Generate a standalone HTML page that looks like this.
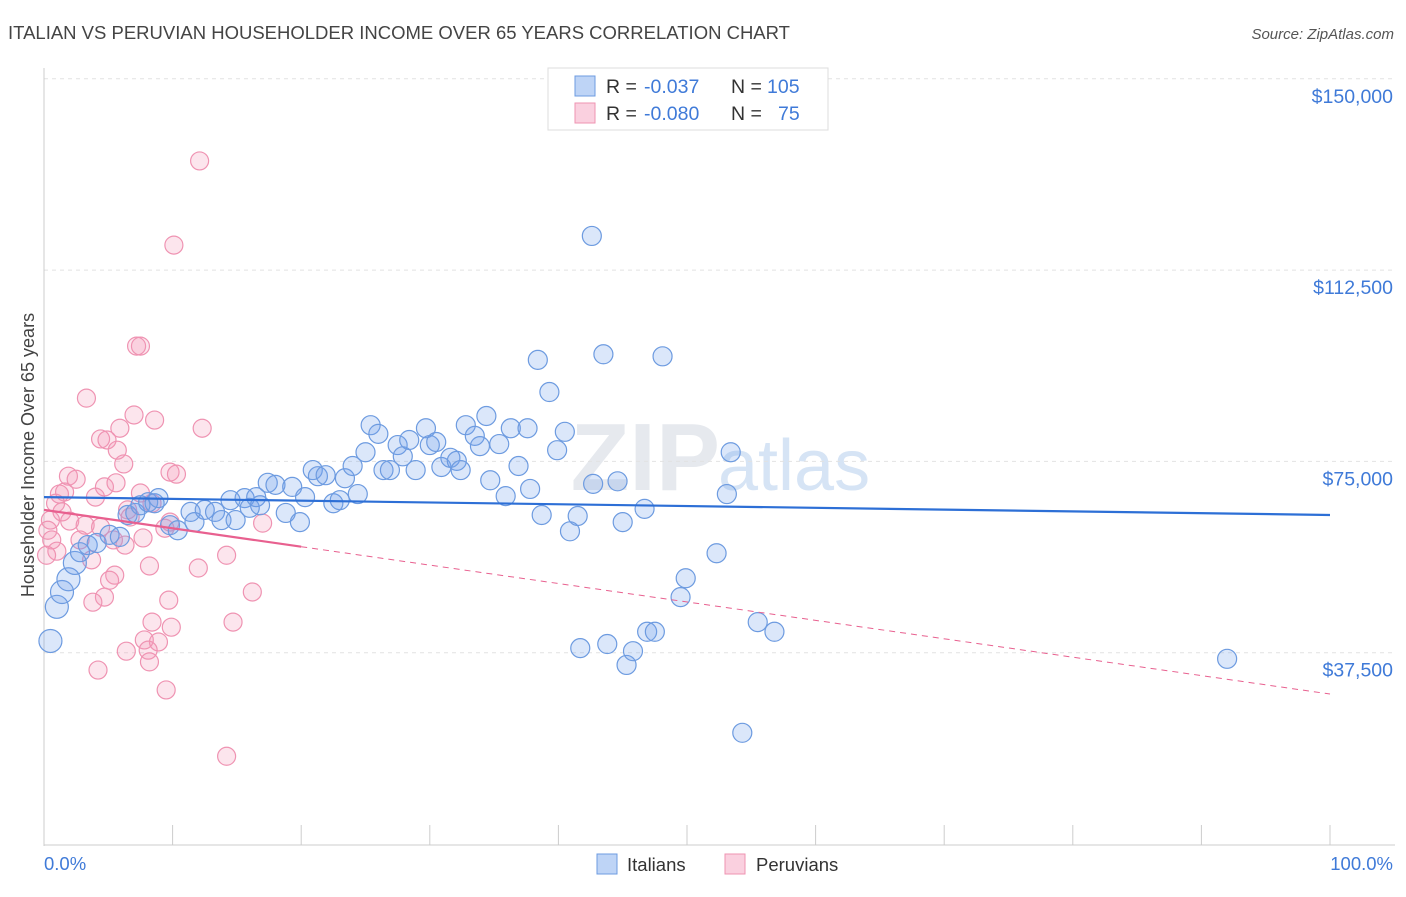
<!DOCTYPE html>
<html><head><meta charset="utf-8">
<style>
body{margin:0;background:#fff;font-family:"Liberation Sans",sans-serif;}
svg text{font-family:"Liberation Sans",sans-serif;}
</style></head>
<body>
<svg id="chart" width="1406" height="892" viewBox="0 0 1406 892">
<text x="8" y="39" font-size="18.5" fill="#444">ITALIAN VS PERUVIAN HOUSEHOLDER INCOME OVER 65 YEARS CORRELATION CHART</text>
<text x="1394" y="39" font-size="15" fill="#555" font-style="italic" text-anchor="end">Source: ZipAtlas.com</text>
<text x="720" y="490" font-size="96" fill="#e6e9ee" text-anchor="end" font-family="Liberation Serif" font-weight="bold">ZIP</text>
<text x="718" y="490" font-size="72" fill="#d6e4f5">atlas</text>
<g id="grid"></g>
<g id="axes"></g>
<g id="pts"></g>
<g id="trend"></g>
<text transform="translate(34,455) rotate(-90)" font-size="18" fill="#444" text-anchor="middle">Householder Income Over 65 years</text>
<g>
<rect x="548" y="68" width="280" height="62" fill="#fff" stroke="#ddd"/>
<rect x="575" y="76" width="20" height="20" fill="rgba(110,160,235,0.45)" stroke="#6d9be0"/>
<text x="606" y="93" font-size="19.5" fill="#333">R =</text>
<text x="644" y="93" font-size="19.5" fill="#3f7ad8">-0.037</text>
<text x="731" y="93" font-size="19.5" fill="#333">N =</text>
<text x="767" y="93" font-size="19.5" fill="#3f7ad8">105</text>
<rect x="575" y="103" width="20" height="20" fill="rgba(245,150,185,0.45)" stroke="#ef93b2"/>
<text x="606" y="120" font-size="19.5" fill="#333">R =</text>
<text x="644" y="120" font-size="19.5" fill="#3f7ad8">-0.080</text>
<text x="731" y="120" font-size="19.5" fill="#333">N =</text>
<text x="778" y="120" font-size="19.5" fill="#3f7ad8">75</text>
</g>
<g>
<rect x="597" y="854" width="20" height="20" fill="rgba(110,160,235,0.45)" stroke="#6d9be0"/>
<text x="627" y="871" font-size="18.5" fill="#333">Italians</text></g>
<g>
<rect x="725" y="854" width="20" height="20" fill="rgba(245,150,185,0.45)" stroke="#ef93b2"/>
<text x="756" y="871" font-size="18.5" fill="#333">Peruvians</text></g>
</svg>
<script>
const yTicks=[37500,75000,112500,150000];
const yTickLabels=["$37,500","$75,000","$112,500","$150,000"];
const xTickLabels=["0.0%","100.0%"];
const itX=[0.5,1.0,1.4,1.9,2.4,2.8,3.4,4.1,5.1,5.9,6.5,7.1,7.5,8.1,8.6,8.9,9.8,10.4,11.4,11.7,12.5,13.3,13.8,14.5,14.9,15.6,16.0,16.5,16.8,17.4,18.0,18.8,19.3,19.9,20.3,20.9,21.3,21.9,22.5,23.0,23.4,24.0,24.4,25.0,25.4,26.0,26.4,26.9,27.5,27.9,28.4,28.9,29.7,30.0,30.5,30.9,31.6,32.1,32.4,32.8,33.5,33.9,34.4,34.7,35.4,35.9,36.3,36.9,37.6,37.8,38.4,38.7,39.3,39.9,40.5,40.9,41.5,41.7,42.6,42.7,43.5,43.8,44.6,45.0,45.3,45.8,46.7,46.9,47.5,48.1,49.5,49.9,52.3,53.1,53.4,54.3,55.5,56.8,92.0];
const itY=[39.8,46.5,49.4,51.9,55.1,57.2,58.6,59.0,60.6,60.2,64.5,64.9,66.4,67.0,66.8,67.8,62.5,61.5,65.1,63.1,65.5,65.1,63.5,67.4,63.5,67.8,65.9,68.0,66.4,70.8,70.4,64.9,70.0,63.1,68.0,73.3,72.1,72.3,66.8,67.4,71.7,74.1,68.6,76.8,82.1,80.4,73.3,73.3,78.2,76.0,79.2,73.3,81.5,78.2,78.8,73.9,75.7,75.1,73.3,82.1,80.0,78.0,83.9,71.3,78.4,68.2,81.5,74.1,81.5,69.6,94.9,64.5,88.6,77.2,80.8,61.3,64.3,38.4,119.2,70.6,96.0,39.2,71.1,63.1,35.1,37.8,65.7,41.6,41.6,95.6,48.4,52.1,57.0,68.6,76.8,21.8,43.5,41.6,36.3];
const peX=[12.1,10.1,7.2,7.5,3.3,7.0,8.6,12.3,4.4,4.9,5.9,5.7,6.2,1.9,2.5,9.8,10.3,1.2,1.6,4.0,4.7,5.6,0.9,1.4,2.0,3.2,4.4,6.5,6.7,7.5,8.4,9.4,9.8,0.5,0.3,0.6,1.0,2.8,3.7,5.4,6.3,7.7,17.0,14.2,12.0,8.2,5.5,5.1,4.7,3.8,9.7,8.4,14.7,16.2,9.9,7.8,8.9,8.1,8.2,6.4,4.2,9.5,14.2,0.2];
const peY=[133.9,117.4,97.6,97.6,87.4,84.1,83.1,81.5,79.4,79.2,81.5,77.2,74.5,72.1,71.5,72.9,72.5,68.6,69.0,68.0,70.0,70.8,66.8,65.1,63.3,62.5,62.1,65.5,64.1,68.8,66.8,61.9,63.1,63.5,61.5,59.6,57.4,59.6,55.7,59.6,58.6,60.0,62.9,56.6,54.1,54.5,52.7,51.7,48.4,47.4,47.8,43.5,43.5,49.4,42.5,40.0,39.6,38.0,35.7,37.8,34.1,30.2,17.2,56.6];
const itTrend=[68.0,64.5];
const peTrend=[65.5,29.4];
const X0=44,X1=1330,YB=844,PXK=191.3/37.5;
const sx=v=>X0+(X1-X0)*v/100;
const sy=v=>YB-v*PXK;
const NS="http://www.w3.org/2000/svg";
function mk(tag,attrs,parent){const e=document.createElementNS(NS,tag);for(const k in attrs)e.setAttribute(k,attrs[k]);document.getElementById(parent).appendChild(e);return e;}
yTicks.forEach((t,i)=>{
 const y=sy(t/1000);
 const g=mk('line',{x1:X0,x2:1395,y1:y,y2:y,stroke:'#e2e2e2','stroke-dasharray':'4,4'},'grid');
 
 
 const tx=mk('text',{x:1393,y:y+24,'font-size':19.5,fill:'#3f7ad8','text-anchor':'end'},'axes');
 tx.textContent=yTickLabels[i];
 
 
});
const yaxis=mk('line',{x1:X0,x2:X0,y1:68,y2:YB+2,stroke:'#ccc'},'axes');


const xaxis=mk('line',{x1:X0,x2:1395,y1:YB+1,y2:YB+1,stroke:'#ccc'},'axes');


for(let i=0;i<=10;i++){const x=sx(i*10);
 const t=mk('line',{x1:x,x2:x,y1:825,y2:845,stroke:'#ccc'},'axes');
 
 }
[[0,'start',44],[100,'end',1393]].forEach((d,i)=>{
 const t=mk('text',{x:d[2],y:870,'font-size':18.5,fill:'#3f7ad8','text-anchor':d[1]},'axes');
 t.textContent=xTickLabels[i];
 
 });
peX.forEach((v,i)=>{
 const c=mk('circle',{cx:sx(v),cy:sy(peY[i]),r:9,fill:'rgba(245,150,185,0.25)',stroke:'#ef93b2','stroke-width':1.2},'pts');
 
 });
itX.forEach((v,i)=>{
 const c=mk('circle',{cx:sx(v),cy:sy(itY[i]),r:i<5?11.5:9.5,fill:'rgba(110,160,235,0.25)',stroke:'#6d9be0','stroke-width':1.2},'pts');
 
 });
const bl=mk('line',{x1:sx(0),y1:sy(itTrend[0]),x2:sx(100),y2:sy(itTrend[1]),stroke:'#2d6fd6','stroke-width':2.2},'trend');


const pAt=p=>peTrend[0]+(peTrend[1]-peTrend[0])*p/100;
const pd=mk('line',{x1:sx(20),y1:sy(pAt(20)),x2:sx(100),y2:sy(pAt(100)),stroke:'#e8608f','stroke-width':1,'stroke-dasharray':'6,5'},'trend');


const ps=mk('line',{x1:sx(0),y1:sy(pAt(0)),x2:sx(20),y2:sy(pAt(20)),stroke:'#e8608f','stroke-width':2.2},'trend');


</script>
</body></html>
